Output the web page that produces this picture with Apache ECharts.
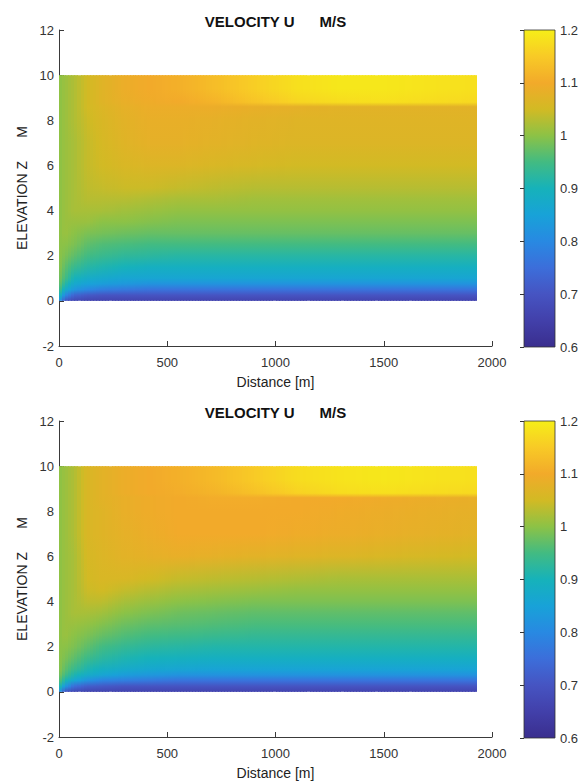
<!DOCTYPE html>
<html>
<head>
<meta charset="utf-8">
<script src="https://cdn.jsdelivr.net/npm/echarts@6/dist/echarts.min.js"></script>
<style>
html,body{margin:0;padding:0;background:#fff;}
#main{width:583px;height:781px;}
</style>
</head>
<body>
<div id="main"></div>
<script>
// ---------------- data ----------------
var TITLE = 'VELOCITY U      M/S';
var X_NAME = 'Distance [m]';
var Y_NAME = 'ELEVATION Z      M';
var X_TICKS = [0, 500, 1000, 1500, 2000];
var Y_TICKS = [-2, 0, 2, 4, 6, 8, 10, 12];
var CB_TICKS = [0.6, 0.7, 0.8, 0.9, 1.0, 1.1, 1.2];

// sample columns (distance, m) and levels (elevation, m)
var XS = [0, 30, 70, 130, 200, 300, 420, 560, 720, 900, 1100, 1300, 1500, 1700, 1930];
var ZS = [0, 0.25, 0.5, 0.75, 1, 1.5, 2, 2.5, 3, 3.5, 4, 4.5, 5, 6, 7, 8, 8.6, 8.8, 9.4, 10];

// upper panel: one row per level in ZS, one value per column in XS (m/s)
var U_TOP = [
  [0.84, 0.70, 0.67, 0.66, 0.66, 0.66, 0.66, 0.66, 0.66, 0.66, 0.66, 0.66, 0.66, 0.66, 0.66],
  [0.92, 0.80, 0.73, 0.71, 0.70, 0.70, 0.70, 0.70, 0.70, 0.70, 0.70, 0.70, 0.70, 0.70, 0.70],
  [0.96, 0.88, 0.83, 0.80, 0.78, 0.77, 0.76, 0.76, 0.76, 0.76, 0.76, 0.76, 0.76, 0.76, 0.76],
  [0.98, 0.92, 0.87, 0.85, 0.84, 0.83, 0.82, 0.82, 0.82, 0.82, 0.82, 0.82, 0.82, 0.82, 0.82],
  [0.99, 0.95, 0.90, 0.88, 0.87, 0.86, 0.86, 0.86, 0.86, 0.86, 0.86, 0.86, 0.86, 0.86, 0.86],
  [1.00, 0.97, 0.94, 0.92, 0.91, 0.90, 0.89, 0.89, 0.89, 0.89, 0.89, 0.89, 0.89, 0.89, 0.89],
  [1.00, 0.99, 0.97, 0.95, 0.94, 0.93, 0.925, 0.92, 0.92, 0.92, 0.92, 0.92, 0.92, 0.92, 0.92],
  [1.00, 1.00, 0.99, 0.97, 0.96, 0.955, 0.95, 0.95, 0.95, 0.95, 0.95, 0.95, 0.95, 0.95, 0.95],
  [1.00, 1.01, 1.00, 0.99, 0.985, 0.98, 0.975, 0.975, 0.975, 0.975, 0.975, 0.975, 0.975, 0.975, 0.975],
  [1.00, 1.01, 1.01, 1.01, 1.00, 1.00, 0.995, 0.99, 0.99, 0.99, 0.99, 0.99, 0.99, 0.99, 0.99],
  [1.00, 1.01, 1.02, 1.02, 1.02, 1.015, 1.01, 1.005, 1.005, 1.005, 1.005, 1.005, 1.005, 1.005, 1.005],
  [1.00, 1.01, 1.02, 1.03, 1.03, 1.03, 1.025, 1.02, 1.02, 1.015, 1.015, 1.015, 1.015, 1.015, 1.015],
  [1.00, 1.01, 1.02, 1.035, 1.04, 1.045, 1.045, 1.04, 1.035, 1.03, 1.03, 1.03, 1.03, 1.03, 1.03],
  [1.00, 1.01, 1.02, 1.04, 1.05, 1.06, 1.065, 1.065, 1.06, 1.055, 1.05, 1.05, 1.05, 1.05, 1.05],
  [1.00, 1.01, 1.02, 1.04, 1.055, 1.07, 1.08, 1.08, 1.075, 1.07, 1.065, 1.065, 1.065, 1.065, 1.065],
  [1.00, 1.01, 1.025, 1.045, 1.06, 1.075, 1.085, 1.085, 1.08, 1.075, 1.07, 1.07, 1.07, 1.07, 1.07],
  [1.00, 1.01, 1.025, 1.05, 1.065, 1.08, 1.09, 1.09, 1.09, 1.085, 1.08, 1.075, 1.075, 1.075, 1.075],
  [1.00, 1.01, 1.025, 1.05, 1.07, 1.085, 1.095, 1.10, 1.115, 1.14, 1.165, 1.175, 1.18, 1.175, 1.17],
  [1.00, 1.01, 1.025, 1.05, 1.07, 1.09, 1.10, 1.11, 1.13, 1.155, 1.18, 1.19, 1.19, 1.185, 1.18],
  [1.00, 1.01, 1.025, 1.05, 1.07, 1.09, 1.10, 1.11, 1.13, 1.155, 1.18, 1.19, 1.19, 1.185, 1.18]
];

// lower panel
var U_BOTTOM = [
  [0.84, 0.70, 0.67, 0.66, 0.66, 0.66, 0.66, 0.66, 0.66, 0.66, 0.66, 0.66, 0.66, 0.66, 0.66],
  [0.93, 0.83, 0.75, 0.72, 0.71, 0.70, 0.70, 0.70, 0.70, 0.70, 0.70, 0.70, 0.70, 0.70, 0.70],
  [0.97, 0.91, 0.86, 0.82, 0.79, 0.78, 0.77, 0.76, 0.76, 0.76, 0.76, 0.76, 0.76, 0.76, 0.76],
  [0.99, 0.95, 0.91, 0.88, 0.86, 0.84, 0.83, 0.82, 0.82, 0.82, 0.82, 0.82, 0.82, 0.82, 0.82],
  [1.00, 0.97, 0.94, 0.91, 0.89, 0.875, 0.865, 0.86, 0.855, 0.855, 0.855, 0.855, 0.855, 0.855, 0.855],
  [1.00, 0.99, 0.97, 0.945, 0.925, 0.91, 0.90, 0.895, 0.89, 0.89, 0.89, 0.89, 0.89, 0.89, 0.89],
  [1.00, 1.00, 0.99, 0.97, 0.95, 0.935, 0.925, 0.92, 0.915, 0.915, 0.915, 0.915, 0.915, 0.915, 0.915],
  [1.00, 1.01, 1.00, 0.99, 0.975, 0.96, 0.95, 0.945, 0.94, 0.935, 0.935, 0.935, 0.935, 0.935, 0.935],
  [1.00, 1.01, 1.01, 1.005, 0.995, 0.98, 0.97, 0.965, 0.96, 0.955, 0.955, 0.955, 0.955, 0.955, 0.955],
  [1.00, 1.01, 1.02, 1.02, 1.015, 1.00, 0.99, 0.98, 0.975, 0.97, 0.97, 0.97, 0.97, 0.97, 0.97],
  [1.00, 1.01, 1.02, 1.035, 1.035, 1.02, 1.01, 1.00, 0.995, 0.99, 0.99, 0.99, 0.99, 0.99, 0.99],
  [1.00, 1.01, 1.02, 1.045, 1.05, 1.04, 1.03, 1.02, 1.015, 1.01, 1.005, 1.005, 1.005, 1.005, 1.005],
  [1.00, 1.01, 1.02, 1.05, 1.06, 1.06, 1.05, 1.04, 1.035, 1.03, 1.025, 1.02, 1.02, 1.02, 1.02],
  [1.00, 1.01, 1.02, 1.055, 1.065, 1.075, 1.08, 1.085, 1.08, 1.075, 1.07, 1.065, 1.06, 1.055, 1.05],
  [1.00, 1.01, 1.025, 1.06, 1.07, 1.08, 1.09, 1.10, 1.10, 1.10, 1.095, 1.09, 1.085, 1.08, 1.075],
  [1.00, 1.01, 1.025, 1.06, 1.07, 1.085, 1.095, 1.10, 1.10, 1.10, 1.10, 1.095, 1.09, 1.085, 1.08],
  [1.00, 1.01, 1.025, 1.06, 1.075, 1.085, 1.095, 1.10, 1.105, 1.105, 1.10, 1.10, 1.095, 1.09, 1.085],
  [1.00, 1.01, 1.025, 1.06, 1.075, 1.09, 1.10, 1.105, 1.115, 1.135, 1.16, 1.175, 1.18, 1.175, 1.17],
  [1.00, 1.01, 1.025, 1.06, 1.075, 1.09, 1.10, 1.11, 1.125, 1.15, 1.175, 1.185, 1.19, 1.185, 1.18],
  [1.00, 1.01, 1.025, 1.06, 1.075, 1.09, 1.10, 1.11, 1.125, 1.15, 1.175, 1.185, 1.19, 1.185, 1.18]
];

// ---------------- style ----------------
var CMAP = [
  [0.60, [58, 46, 142]], [0.65, [66, 64, 170]], [0.70, [70, 84, 194]], [0.75, [60, 110, 218]],
  [0.80, [40, 137, 226]], [0.85, [24, 162, 216]], [0.90, [22, 178, 186]], [0.95, [66, 187, 130]],
  [1.00, [140, 194, 70]], [1.05, [210, 186, 36]], [1.10, [242, 170, 42]], [1.15, [248, 202, 38]],
  [1.20, [246, 238, 24]]
];
var VMIN = 0.6, VMAX = 1.2;
var FONT = '"Liberation Sans", Arial, Helvetica, sans-serif';
var AX = '#3a3a3a';
var SUB_PX = 3; // width in pixels of one shading slice

function colorOf(v) {
  if (v <= CMAP[0][0]) return 'rgb(' + CMAP[0][1].join(',') + ')';
  for (var k = 1; k < CMAP.length; k++) {
    if (v <= CMAP[k][0]) {
      var a = CMAP[k - 1], b = CMAP[k];
      var f = (v - a[0]) / (b[0] - a[0]);
      var c = a[1].map(function (q, n) { return Math.round(q + (b[1][n] - q) * f); });
      return 'rgb(' + c.join(',') + ')';
    }
  }
  return 'rgb(' + CMAP[CMAP.length - 1][1].join(',') + ')';
}

// Each data item is one interval between two sampled columns; it is shaded
// like MATLAB's "shading interp" (vertical gradient, blended across the interval).
function heatRender(U) {
  return function (params, api) {
    var i = api.value(1);
    var zb = ZS[0], zt = ZS[ZS.length - 1];
    var p0 = api.coord([XS[i], zt]);
    var p1 = api.coord([XS[i + 1], zb]);
    var w = p1[0] - p0[0], h = p1[1] - p0[1];
    var n = Math.max(1, Math.round(w / SUB_PX));
    var kids = [];
    var lastItem = (i === XS.length - 2);
    for (var s = 0; s < n; s++) {
      var f = (s + 0.5) / n;
      var stops = ZS.map(function (z, j) {
        var v = U[j][i] + (U[j][i + 1] - U[j][i]) * f;
        return { offset: (z - zb) / (zt - zb), color: colorOf(v) };
      });
      var bx0 = Math.round(p0[0] + w * s / n);
      var bx1 = Math.round(p0[0] + w * (s + 1) / n);
      var wd = bx1 - bx0 + ((lastItem && s === n - 1) ? 0 : 1);
      kids.push({
        type: 'rect',
        shape: { x: bx0, y: p0[1], width: wd, height: h },
        style: { fill: new echarts.graphic.LinearGradient(0, 1, 0, 0, stops) }
      });
    }
    return { type: 'group', children: kids };
  };
}

function cbRender(params, api) {
  var p0 = api.coord([0, VMAX]);
  var p1 = api.coord([1, VMIN]);
  var stops = CMAP.map(function (s) {
    return { offset: (s[0] - VMIN) / (VMAX - VMIN), color: 'rgb(' + s[1].join(',') + ')' };
  });
  return {
    type: 'rect',
    shape: { x: p0[0], y: p0[1], width: p1[0] - p0[0], height: p1[1] - p0[1] },
    style: { fill: new echarts.graphic.LinearGradient(0, 1, 0, 0, stops), stroke: '#333', lineWidth: 0.8 }
  };
}

var PANEL_TOP = [30, 421];

function mainX(g) {
  return {
    gridIndex: g, type: 'value', min: X_TICKS[0], max: X_TICKS[X_TICKS.length - 1],
    interval: X_TICKS[1] - X_TICKS[0],
    name: X_NAME, nameLocation: 'middle', nameGap: 29,
    nameTextStyle: { fontSize: 14, color: '#222', fontFamily: FONT },
    axisLine: { onZero: false, lineStyle: { color: AX, width: 1 } },
    axisTick: { inside: true, length: 5, lineStyle: { color: AX } },
    axisLabel: { fontSize: 13, color: '#333', fontFamily: FONT, margin: 10,
      formatter: function (v) { return String(v); } },
    splitLine: { show: false }
  };
}
function mainY(g) {
  return {
    gridIndex: g, type: 'value', min: Y_TICKS[0], max: Y_TICKS[Y_TICKS.length - 1],
    interval: Y_TICKS[1] - Y_TICKS[0],
    name: Y_NAME, nameLocation: 'middle', nameGap: 23,
    nameTextStyle: { fontSize: 14, color: '#222', fontFamily: FONT },
    axisLine: { onZero: false, lineStyle: { color: AX, width: 1 } },
    axisTick: { inside: true, length: 5, lineStyle: { color: AX } },
    axisLabel: { fontSize: 13, color: '#333', fontFamily: FONT, margin: 5,
      formatter: function (v) { return String(v); } },
    splitLine: { show: false }
  };
}
function cbX(g) {
  return { gridIndex: g, type: 'value', min: 0, max: 1, show: false };
}
function cbY(g) {
  return {
    gridIndex: g, type: 'value', position: 'right', min: CB_TICKS[0], max: CB_TICKS[CB_TICKS.length - 1],
    interval: 0.1, z: 10,
    axisLine: { show: false },
    axisTick: { inside: true, length: 4, lineStyle: { color: '#333' } },
    axisLabel: {
      fontSize: 13, color: '#333', fontFamily: FONT, margin: 5,
      formatter: function (v) { return String(+v.toFixed(1)); }
    },
    splitLine: { show: false }
  };
}

var option = {
  backgroundColor: '#fff',
  animation: false,
  grid: [
    { left: 59, top: PANEL_TOP[0], width: 433, height: 316 },
    { left: 59, top: PANEL_TOP[1], width: 433, height: 316 },
    { left: 524, top: PANEL_TOP[0], width: 31, height: 317 },
    { left: 524, top: PANEL_TOP[1], width: 31, height: 317 }
  ],
  xAxis: [mainX(0), mainX(1), cbX(2), cbX(3)],
  yAxis: [mainY(0), mainY(1), cbY(2), cbY(3)],
  graphic: [0, 1].map(function (p) {
    return {
      type: 'text', x: 275.5, y: PANEL_TOP[p] - 9,
      style: {
        text: TITLE, font: 'bold 15px ' + FONT, fill: '#111',
        textAlign: 'center', textVerticalAlign: 'middle', align: 'center', verticalAlign: 'middle'
      }
    };
  }),
  series: [
    { type: 'custom', xAxisIndex: 0, yAxisIndex: 0, silent: true,
      data: XS.slice(0, -1).map(function (x, i) { return [x, i]; }), renderItem: heatRender(U_TOP) },
    { type: 'custom', xAxisIndex: 1, yAxisIndex: 1, silent: true,
      data: XS.slice(0, -1).map(function (x, i) { return [x, i]; }), renderItem: heatRender(U_BOTTOM) },
    { type: 'custom', xAxisIndex: 2, yAxisIndex: 2, silent: true,
      data: [[0, VMIN]], renderItem: cbRender },
    { type: 'custom', xAxisIndex: 3, yAxisIndex: 3, silent: true,
      data: [[0, VMIN]], renderItem: cbRender }
  ]
};

var chart = echarts.init(document.getElementById('main'), null, { renderer: 'svg' });
chart.setOption(option);
</script>
</body>
</html>
